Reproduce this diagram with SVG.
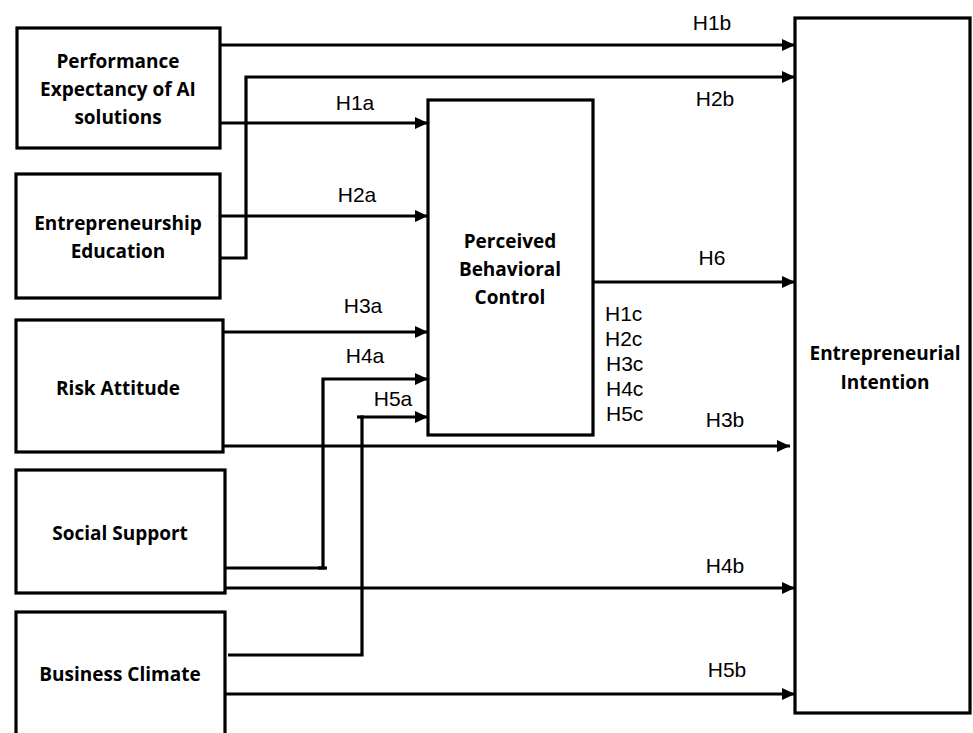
<svg xmlns="http://www.w3.org/2000/svg" width="973" height="733" viewBox="0 0 973 733">
<style>
.box{fill:#fff;stroke:#000;stroke-width:3.2}
.lbl{font-family:"Open Sans","Liberation Sans",sans-serif;font-weight:bold;font-size:19px;fill:#000;text-anchor:middle}
.hl{font-family:"Liberation Sans","Open Sans",sans-serif;font-size:21px;fill:#000;text-anchor:middle}
.hc{font-family:"Liberation Sans","Open Sans",sans-serif;font-size:21px;fill:#000}
.ln{fill:none;stroke:#000;stroke-width:3.2;marker-end:url(#ah)}
.ln2{fill:none;stroke:#000;stroke-width:3.2}
</style>
<defs>
<marker id="ah" markerUnits="userSpaceOnUse" markerWidth="14" markerHeight="12" refX="13" refY="6" orient="auto">
<path d="M0,0 L13,6 L0,12 Z" fill="#000"/>
</marker>
</defs>
<rect width="973" height="733" fill="#fff"/>
<g id="connectors">
<path class="ln" d="M220,45 H795"/>
<path class="ln" d="M220,258 H246 V77 H795"/>
<path class="ln" d="M220,123 H428"/>
<path class="ln" d="M220,216 H428"/>
<path class="ln" d="M222,332 H428"/>
<path class="ln" d="M224,568 H323 V379 H428"/>
<path class="ln2" d="M318,568 H327"/>
<path class="ln" d="M228,655 H362 V417 H428"/>
<path class="ln2" d="M357,417 H364"/>
<path class="ln" d="M593,282 H795"/>
<path class="ln" d="M223,446 H790"/>
<path class="ln" d="M225,588 H795"/>
<path class="ln" d="M225,694 H795"/>
</g>
<g id="pe"><rect class="box" x="17" y="28" width="203" height="120"/>
<text class="lbl" x="118" y="68">Performance</text>
<text class="lbl" x="118" y="96">Expectancy of AI</text>
<text class="lbl" x="118" y="124">solutions</text></g>
<g id="ee"><rect class="box" x="16" y="174" width="204" height="124"/>
<text class="lbl" x="118" y="230">Entrepreneurship</text>
<text class="lbl" x="118" y="258">Education</text></g>
<g id="ra"><rect class="box" x="16" y="320" width="207" height="132"/>
<text class="lbl" x="118" y="395">Risk Attitude</text></g>
<g id="ss"><rect class="box" x="16" y="470" width="209" height="123"/>
<text class="lbl" x="120" y="540">Social Support</text></g>
<g id="bc"><rect class="box" x="16" y="612" width="209" height="130"/>
<text class="lbl" x="120" y="681">Business Climate</text></g>
<g id="pbc"><rect class="box" x="428" y="100" width="165" height="335"/>
<text class="lbl" x="510" y="248">Perceived</text>
<text class="lbl" x="510" y="276">Behavioral</text>
<text class="lbl" x="510" y="304">Control</text></g>
<g id="ei"><rect class="box" x="795" y="18" width="175" height="695"/>
<text class="lbl" x="885" y="360">Entrepreneurial</text>
<text class="lbl" x="885" y="389">Intention</text></g>
<g id="labels">
<text class="hl" x="712" y="30">H1b</text>
<text class="hl" x="715" y="106">H2b</text>
<text class="hl" x="355" y="110">H1a</text>
<text class="hl" x="357" y="202">H2a</text>
<text class="hl" x="363" y="313">H3a</text>
<text class="hl" x="365" y="363">H4a</text>
<text class="hl" x="393" y="406">H5a</text>
<text class="hl" x="712" y="265">H6</text>
<text class="hl" x="725" y="427">H3b</text>
<text class="hl" x="725" y="573">H4b</text>
<text class="hl" x="727" y="677">H5b</text>
<text class="hc" x="605" y="321">H1c</text>
<text class="hc" x="605" y="346">H2c</text>
<text class="hc" x="606" y="371">H3c</text>
<text class="hc" x="606" y="396">H4c</text>
<text class="hc" x="606" y="421">H5c</text>
</g>
</svg>
